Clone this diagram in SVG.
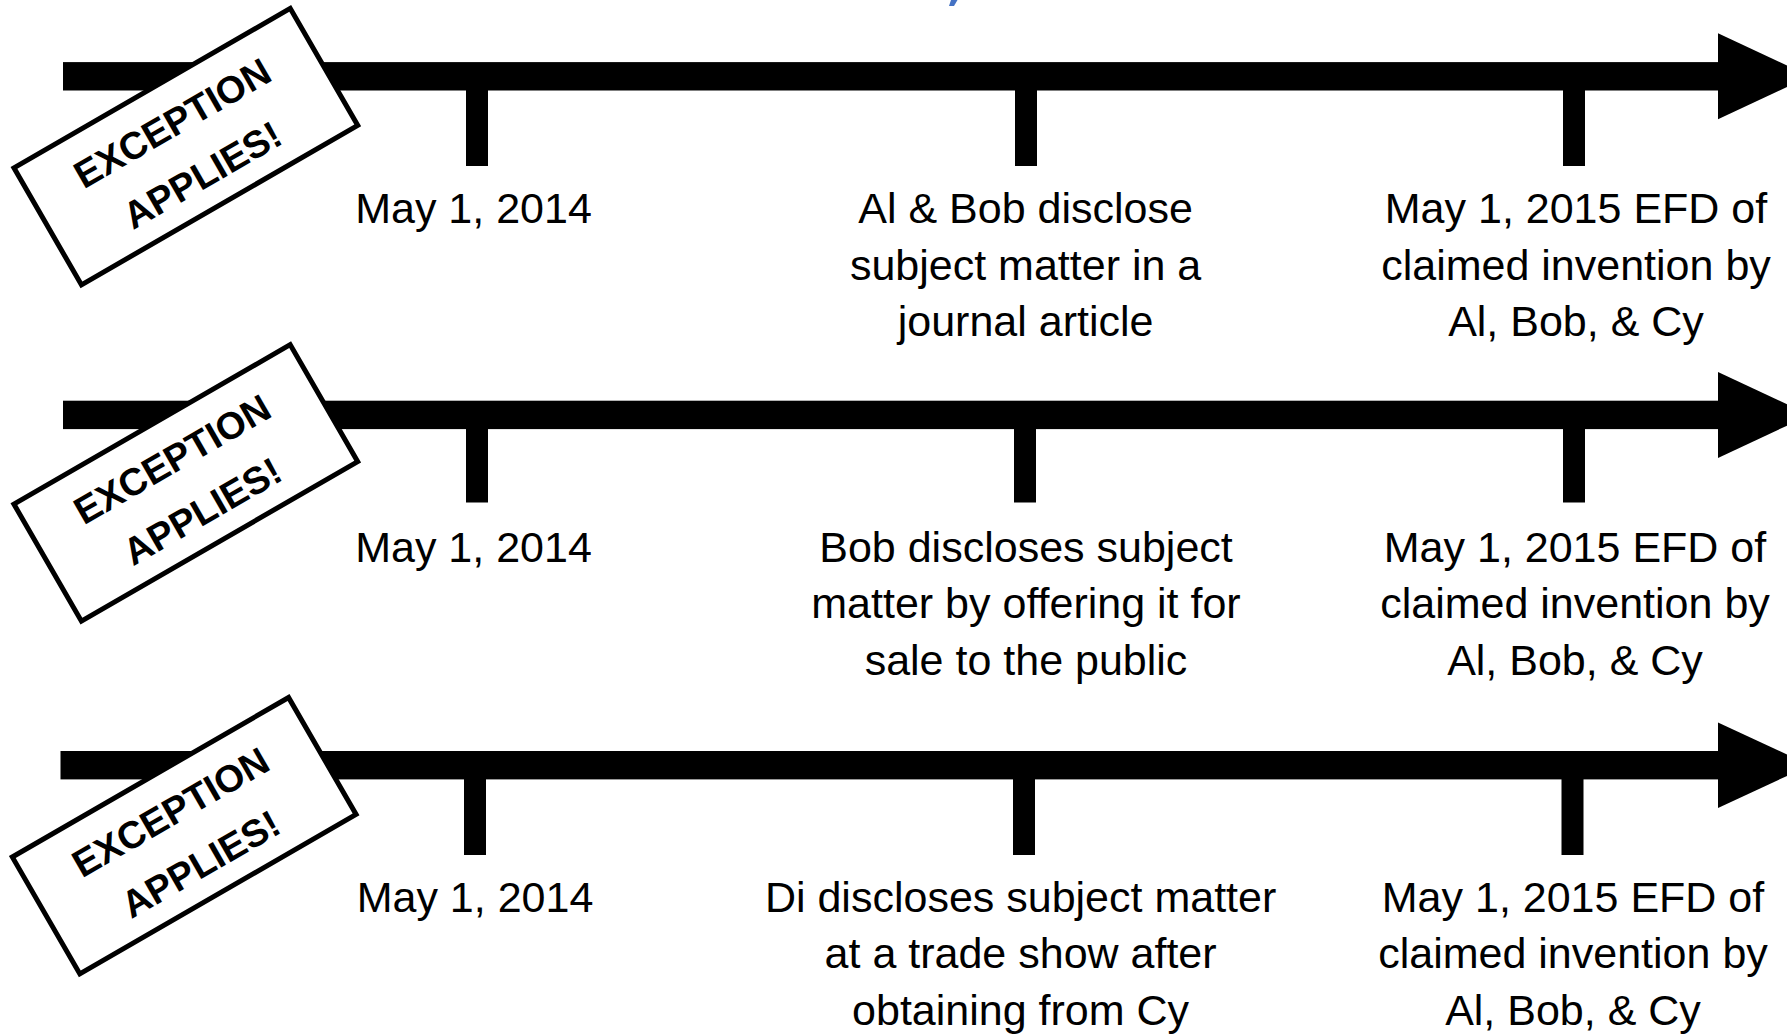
<svg xmlns="http://www.w3.org/2000/svg" width="1787" height="1034" viewBox="0 0 1787 1034">
<style>
.bar{fill:#000}
.tick{fill:#000}
.lbl{font-family:"Liberation Sans",Arial,sans-serif;font-size:43px;fill:#000;text-anchor:middle}
.stamp rect{fill:#fff;stroke:#000;stroke-width:5}
.stamp text{font-family:"Liberation Sans",Arial,sans-serif;font-weight:bold;font-size:38px;fill:#000;text-anchor:middle}
</style>
<rect width="1787" height="1034" fill="#fff"/>
<polygon points="951,0 957.5,0 954,6 949,6" fill="#4472C4"/>
<g id="connectors">
  <rect class="bar" x="63" y="62.1" width="1657" height="28.4"/>
  <polygon class="bar" points="1718,33.3 1810,76.3 1718,119.3"/>
  <rect class="bar" x="63" y="400.7" width="1657" height="28.4"/>
  <polygon class="bar" points="1718,371.9 1810,414.9 1718,457.9"/>
  <rect class="bar" x="60.5" y="751" width="1659.5" height="28.4"/>
  <polygon class="bar" points="1718,722.5 1810,765.2 1718,808"/>
</g>
<g id="r1-t1"><rect class="tick" x="466" y="90" width="22" height="76"/><text class="lbl" x="473.5" y="222.7">May 1, 2014</text></g>
<g id="r1-t2"><rect class="tick" x="1015" y="90" width="22" height="76"/><text class="lbl" x="1025.6" y="222.7">Al &amp; Bob disclose</text><text class="lbl" x="1025.6" y="279.5">subject matter in a</text><text class="lbl" x="1025.6" y="336">journal article</text></g>
<g id="r1-t3"><rect class="tick" x="1563" y="90" width="22" height="76"/><text class="lbl" x="1576" y="222.7">May 1, 2015 EFD of</text><text class="lbl" x="1576" y="279.5">claimed invention by</text><text class="lbl" x="1576" y="336">Al, Bob, &amp; Cy</text></g>
<g id="r2-t1"><rect class="tick" x="466" y="428.5" width="22" height="74"/><text class="lbl" x="473.5" y="561.5">May 1, 2014</text></g>
<g id="r2-t2"><rect class="tick" x="1014" y="428.5" width="22" height="74"/><text class="lbl" x="1026" y="561.5">Bob discloses subject</text><text class="lbl" x="1026" y="618.3">matter by offering it for</text><text class="lbl" x="1026" y="675">sale to the public</text></g>
<g id="r2-t3"><rect class="tick" x="1563" y="428.5" width="22" height="74"/><text class="lbl" x="1575" y="561.5">May 1, 2015 EFD of</text><text class="lbl" x="1575" y="618.3">claimed invention by</text><text class="lbl" x="1575" y="675">Al, Bob, &amp; Cy</text></g>
<g id="r3-t1"><rect class="tick" x="464" y="779" width="22" height="76"/><text class="lbl" x="475" y="911.7">May 1, 2014</text></g>
<g id="r3-t2"><rect class="tick" x="1013" y="779" width="22" height="76"/><text class="lbl" x="1020.6" y="911.7">Di discloses subject matter</text><text class="lbl" x="1020.6" y="968.4">at a trade show after</text><text class="lbl" x="1020.6" y="1025">obtaining from Cy</text></g>
<g id="r3-t3"><rect class="tick" x="1561.5" y="779" width="22" height="76"/><text class="lbl" x="1573" y="911.7">May 1, 2015 EFD of</text><text class="lbl" x="1573" y="968.4">claimed invention by</text><text class="lbl" x="1573" y="1025">Al, Bob, &amp; Cy</text></g>
<g id="stamp1" class="stamp" transform="translate(185.85 146.65) rotate(-30)"><rect x="-159.5" y="-67.5" width="319" height="135"/><text x="0" y="-14">EXCEPTION</text><text x="0" y="46">APPLIES!</text></g>
<g id="stamp2" class="stamp" transform="translate(185.8 482.85) rotate(-30)"><rect x="-159.5" y="-67.5" width="319" height="135"/><text x="0" y="-14">EXCEPTION</text><text x="0" y="46">APPLIES!</text></g>
<g id="stamp3" class="stamp" transform="translate(184.2 835.7) rotate(-30)"><rect x="-159.5" y="-67.5" width="319" height="135"/><text x="0" y="-14">EXCEPTION</text><text x="0" y="46">APPLIES!</text></g>
</svg>
